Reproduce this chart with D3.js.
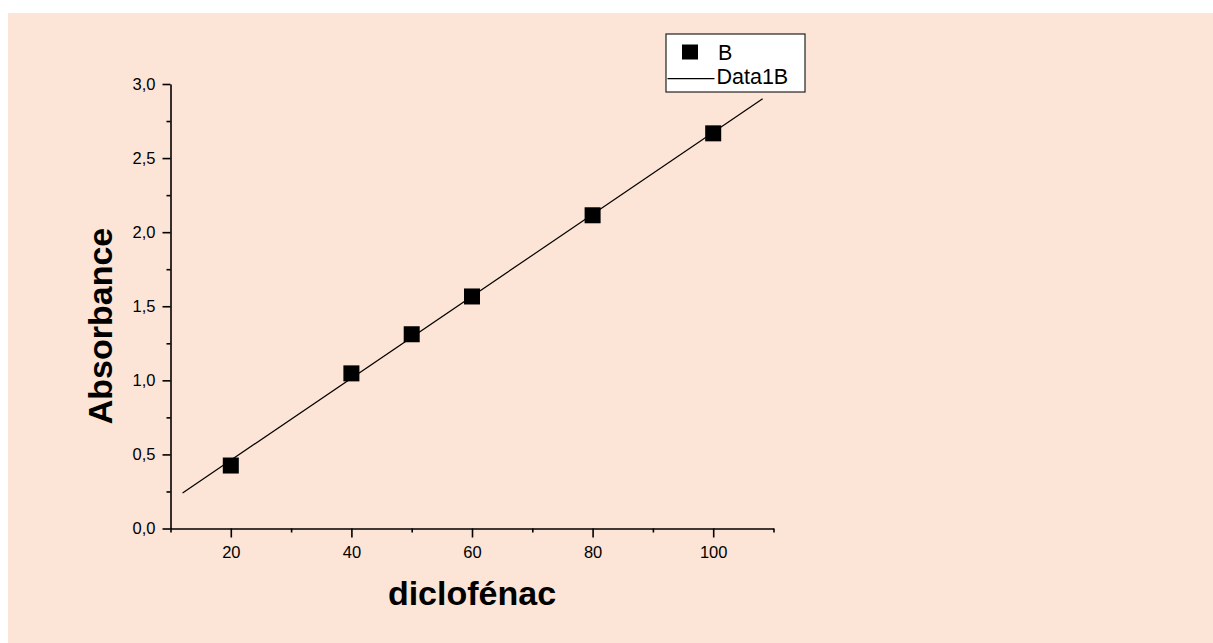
<!DOCTYPE html>
<html>
<head>
<meta charset="utf-8">
<script src="https://cdn.jsdelivr.net/npm/d3@7"></script>
<style>
  html, body { margin: 0; padding: 0; background: #ffffff; }
  svg { display: block; }
  text { font-family: "Liberation Sans", Arial, Helvetica, sans-serif; fill: #000; }
</style>
</head>
<body>
<svg id="chart" width="1213" height="643"></svg>
<script>
// ---- data ----
const xValues = [20, 40, 50, 60, 80, 100];
const yValues = [0.425, 1.047, 1.311, 1.566, 2.114, 2.667];
// linear fit line (Data1B) endpoints as drawn
const fitX = [12.0, 108.2];
const fitY = [0.24, 2.90];
const xMajorTicks = [20, 40, 60, 80, 100];
const xMinorTicks = [10, 30, 50, 70, 90, 110];
const yMajorTicks = [0, 0.5, 1.0, 1.5, 2.0, 2.5, 3.0];
const yMinorTicks = [0.25, 0.75, 1.25, 1.75, 2.25, 2.75];
const xTitle = "diclofénac";
const yTitle = "Absorbance";
const legendLabels = ["B", "Data1B"];

const svg = d3.select("#chart");
const W = 1213, H = 643;

// background panel
svg.append("rect").attr("x", 8).attr("y", 13).attr("width", W - 8).attr("height", H - 13)
  .attr("fill", "#FCE4D6");

const x = d3.scaleLinear().domain([10, 110]).range([170.5, 773.5]);
const y = d3.scaleLinear().domain([0, 3]).range([528.5, 84]);

const commaFmt = d => d3.format(".1f")(d).replace(".", ",");

// X axis
const gx = svg.append("g").attr("transform", `translate(0,${y(0)})`);
gx.call(d3.axisBottom(x).tickValues(xMajorTicks).tickSize(9).tickSizeOuter(0).tickPadding(9)
  .tickFormat(d3.format("d")));
gx.append("g").call(d3.axisBottom(x).tickValues(xMinorTicks).tickSize(4).tickSizeOuter(0).tickFormat(""))
  .select(".domain").remove();

// Y axis
const gy = svg.append("g").attr("transform", `translate(${x(10)},0)`);
gy.call(d3.axisLeft(y).tickValues(yMajorTicks).tickSize(8).tickSizeOuter(0).tickPadding(7)
  .tickFormat(commaFmt));
gy.append("g").call(d3.axisLeft(y).tickValues(yMinorTicks).tickSize(4).tickSizeOuter(0).tickFormat(""))
  .select(".domain").remove();

svg.selectAll(".domain, .tick line").attr("stroke", "#000").attr("stroke-width", 1.6);
svg.selectAll(".tick text").attr("font-size", 16.5).attr("fill", "#000")
  .style("font-family", '"Liberation Sans", Arial, sans-serif');

// fit line
const fitData = fitX.map((v, i) => [v, fitY[i]]);
svg.append("path").datum(fitData)
  .attr("d", d3.line().x(d => x(d[0])).y(d => y(d[1])))
  .attr("fill", "none").attr("stroke", "#000").attr("stroke-width", 1.2);

// markers
const ms = 16;
svg.append("g").selectAll("rect").data(xValues.map((v, i) => [v, yValues[i]])).join("rect")
  .attr("x", d => x(d[0]) - ms / 2).attr("y", d => y(d[1]) - ms / 2)
  .attr("width", ms).attr("height", ms).attr("fill", "#000");

// axis titles
svg.append("text").attr("x", (x(10) + x(110)) / 2).attr("y", 605)
  .attr("text-anchor", "middle").attr("font-size", 34).attr("font-weight", "bold").text(xTitle);
svg.append("text").attr("transform", `translate(112,326) rotate(-90)`)
  .attr("text-anchor", "middle").attr("font-size", 34).attr("font-weight", "bold").text(yTitle);

// legend
const lg = svg.append("g");
lg.append("rect").attr("x", 666).attr("y", 34).attr("width", 139).attr("height", 58)
  .attr("fill", "#fff").attr("stroke", "#222").attr("stroke-width", 1.2);
lg.append("rect").attr("x", 682).attr("y", 44.5).attr("width", 16).attr("height", 15).attr("fill", "#000");
lg.append("text").attr("x", 718).attr("y", 59.7).attr("font-size", 21.5).text(legendLabels[0]);
lg.append("line").attr("x1", 667.5).attr("x2", 714.5).attr("y1", 78.7).attr("y2", 78.7)
  .attr("stroke", "#000").attr("stroke-width", 1.2);
lg.append("text").attr("x", 716.5).attr("y", 84).attr("font-size", 21.5).text(legendLabels[1]);
</script>
</body>
</html>
